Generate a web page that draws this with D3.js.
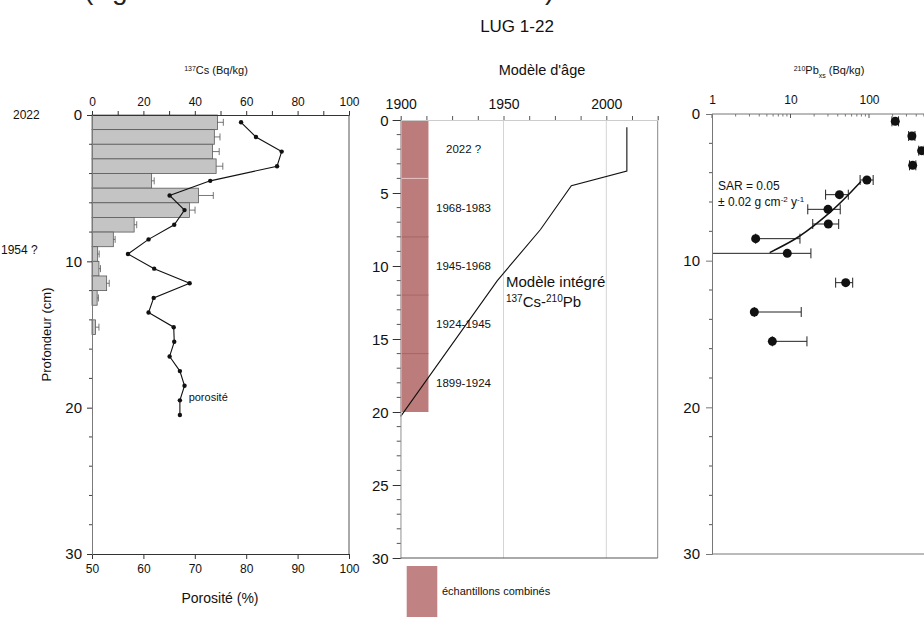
<!DOCTYPE html>
<html><head><meta charset="utf-8">
<script src="https://cdn.jsdelivr.net/npm/d3@7"></script>
<style>body{margin:0;background:#fff}svg{display:block;font-family:"Liberation Sans",Arial,sans-serif}</style>
</head><body><svg id="c" width="924" height="617"></svg>
<script>
// ---------- DATA ----------
// 137Cs activity, 1 cm slices (top depth of slice)
const csDepthTop = [0,1,2,3,4,5,6,7,8,9,10,11,12,13,14];
const csValues   = [48.8,47.6,46.9,48.3,23.2,41.4,37.9,16.4,8.3,2.2,2.7,5.7,2.0,0,1.4];
const csErrors   = [2.3,2.2,2.6,2.6,1.0,5.8,2.2,1.0,0.7,0.6,0.6,1.0,0.5,0,1.3];
// porosity (%)
const porDepth  = [0.5,1.5,2.5,3.5,4.5,5.5,6.5,7.5,8.5,9.5,10.5,11.5,12.5,13.5,14.5,15.5,16.5,17.5,18.5,19.5,20.5];
const porValues = [79.0,81.9,86.9,86.0,73.0,65.1,68.0,66.0,61.0,57.0,62.1,69.0,62.0,61.0,65.9,66.0,65.1,67.1,68.0,67.1,67.1];
const depthMarkers = [{label:"2022", depth:0},{label:"1954 ?", depth:9.2}];
const csTicks = [0,20,40,60,80,100];
const porTicks = [50,60,70,80,90,100];
const depthTicks = [0,10,20,30];
// age model
const ageYears  = [2010,2010,1983,1968,1947,1900];
const ageDepths = [0.5,3.5,4.5,7.5,11,20.3];
const sampleTop = [0,4,8,12,16];
const sampleBottom = [4,8,12,16,20];
const sampleLabels = ["2022 ?","1968-1983","1945-1968","1924-1945","1899-1924"];
const yearTicks = [1900,1950,2000];
const ageDepthTicks = [0,5,10,15,20,25,30];
// 210Pb excess
const pbDepth  = [0.5,1.5,2.5,3.5,4.5,5.5,6.5,7.5,8.5,9.5,11.5,13.5,15.5];
const pbValues = [216,352,468,360,94,42,30,30.3,3.6,9.1,50.5,3.46,5.87];
const pbLow    = [196,320,430,328,77,28,16.6,19.2,3.6,1,37.6,3.46,5.87];
const pbHigh   = [238,385,505,395,113,54.5,43,41.1,13.2,18.2,62,13.7,16.2];
const fitValues = [5.43,10.9,27.5,79];
const fitDepths = [9.45,8.59,7.0,4.6];
const pbTicks = [1,10,100];

// ---------- DRAW ----------
const svg = d3.select("#c");
const FONT = "Liberation Sans, Arial, sans-serif";
const axisGrey = "#7a7a7a";

function styleAxis(g, color, fs){
  g.selectAll("path").attr("stroke", color);
  g.selectAll("line").attr("stroke", color);
  g.selectAll("text").attr("fill","#111").style("font-size", fs+"px").style("font-family",FONT);
}

// caption fragment cut at top & title
svg.append("text").attr("x",84).attr("y",-1).style("font-size","28px").attr("fill","#222").text("(Âge");
svg.append("text").attr("x",545).attr("y",-1).style("font-size","28px").attr("fill","#222").text(")");
svg.append("text").attr("x",517).attr("y",32).attr("text-anchor","middle").style("font-size","17px").attr("fill","#111").text("LUG 1-22");

// ===== Panel 1 =====
const L = {x0:92, x1:349, y0:115, y1:554};
const xCs = d3.scaleLinear().domain([0,100]).range([L.x0,L.x1]);
const xPor = d3.scaleLinear().domain([50,100]).range([L.x0,L.x1]);
const yL = d3.scaleLinear().domain([0,30]).range([L.y0,L.y1]);

const p1 = svg.append("g");
const csRows = csDepthTop.map((d,i)=>({d, v:csValues[i], e:csErrors[i]})).filter(o=>o.v>0);
p1.selectAll("rect.cs").data(csRows)
  .join("rect").attr("x",xCs(0)).attr("y",o=>yL(o.d)).attr("width",o=>xCs(o.v)-xCs(0)).attr("height",o=>yL(o.d+1)-yL(o.d))
  .attr("fill","#c4c4c4").attr("stroke","#5a5a5a").attr("stroke-width",0.8);
const eb = p1.selectAll("g.err").data(csRows).join("g");
eb.append("line").attr("x1",o=>xCs(o.v)).attr("x2",o=>xCs(o.v+o.e)).attr("y1",o=>yL(o.d+0.5)).attr("y2",o=>yL(o.d+0.5)).attr("stroke","#555").attr("stroke-width",0.8);
eb.append("line").attr("x1",o=>xCs(o.v+o.e)).attr("x2",o=>xCs(o.v+o.e)).attr("y1",o=>yL(o.d+0.5)-3.5).attr("y2",o=>yL(o.d+0.5)+3.5).attr("stroke","#555").attr("stroke-width",0.8);

const porPts = porDepth.map((d,i)=>[xPor(porValues[i]), yL(d)]);
p1.append("path").attr("d", d3.line()(porPts)).attr("fill","none").attr("stroke","#111").attr("stroke-width",1.1);
p1.selectAll("circle.por").data(porPts).join("circle").attr("cx",d=>d[0]).attr("cy",d=>d[1]).attr("r",2.2).attr("fill","#111");
p1.append("text").attr("x",xPor(68.8)).attr("y",yL(19.3)+4).style("font-size","11px").attr("fill","#111").text("porosité");

const aTopL = svg.append("g").attr("transform",`translate(0,${L.y0})`)
  .call(d3.axisTop(xCs).tickValues(d3.range(0,101,10)).tickSize(4).tickFormat(v=>csTicks.includes(v)?v:""));
styleAxis(aTopL,"#333",12);
aTopL.selectAll("text").attr("dy","-0.15em");
const aBotL = svg.append("g").attr("transform",`translate(0,${L.y1})`)
  .call(d3.axisBottom(xPor).tickValues(porTicks).tickSize(5).tickPadding(5));
styleAxis(aBotL,"#333",12);
const aLeftL = svg.append("g").attr("transform",`translate(${L.x0},0)`)
  .call(d3.axisLeft(yL).tickValues(depthTicks).tickSize(5).tickPadding(5));
styleAxis(aLeftL,axisGrey,15);
aLeftL.selectAll("line").attr("stroke","#333");
svg.append("g").selectAll("line").data(d3.range(2,30,2).filter(v=>v%10)).join("line")
  .attr("x1",L.x0-3).attr("x2",L.x0).attr("y1",v=>yL(v)).attr("y2",v=>yL(v)).attr("stroke","#444");
svg.append("line").attr("x1",L.x1).attr("x2",L.x1).attr("y1",L.y0).attr("y2",L.y1).attr("stroke","#555");
svg.append("text").attr("x",216).attr("y",74).attr("text-anchor","middle").style("font-size","11px").attr("fill","#111")
  .html('<tspan baseline-shift="super" font-size="7px">137</tspan>Cs (Bq/kg)');
svg.append("text").attr("x",220).attr("y",603).attr("text-anchor","middle").style("font-size","14px").attr("fill","#111").text("Porosité (%)");
svg.append("text").attr("transform",`translate(51,${(L.y0+L.y1)/2}) rotate(-90)`).attr("text-anchor","middle").style("font-size","13px").attr("fill","#111").text("Profondeur (cm)");
svg.append("g").selectAll("text").data(depthMarkers).join("text")
  .attr("x",d=>d.label==="2022"?13:1).attr("y",d=>yL(d.depth)+4).style("font-size","12px").attr("fill","#111").text(d=>d.label);

// ===== Panel 2 =====
const M = {x0:400.7, x1:657.7, y0:120, y1:558};
const xYear = d3.scaleLinear().domain([1900,2025]).range([M.x0,M.x1]);
const yM = d3.scaleLinear().domain([0,30]).range([M.y0,M.y1]);
const p2 = svg.append("g");
p2.selectAll("line.grid").data([1950,2000]).join("line").attr("x1",d=>xYear(d)).attr("x2",d=>xYear(d)).attr("y1",M.y0).attr("y2",M.y1).attr("stroke","#d4d4d4");
p2.append("line").attr("x1",M.x0).attr("x2",M.x0).attr("y1",M.y0).attr("y2",M.y1).attr("stroke","#bbb");
p2.append("line").attr("x1",M.x1).attr("x2",M.x1).attr("y1",M.y0).attr("y2",M.y1).attr("stroke","#888");
const combW = xYear(1913.5)-xYear(1900);
p2.selectAll("rect.s").data(sampleTop).join("rect").attr("x",xYear(1900)).attr("y",d=>yM(d)).attr("width",combW)
  .attr("height",(d,i)=>yM(sampleBottom[i])-yM(d)).attr("fill","#bd7c7c");
p2.selectAll("line.sep").data(sampleTop.slice(1)).join("line").attr("x1",xYear(1900)).attr("x2",xYear(1900)+combW)
  .attr("y1",d=>yM(d)).attr("y2",d=>yM(d)).attr("stroke",(d,i)=>i===0?"#e8cccc":"#9a5656").attr("stroke-width",0.8);
p2.selectAll("text.sl").data(sampleTop).join("text").attr("x",d=>d===0?446:436).attr("y",(d,i)=>yM((d+sampleBottom[i])/2)+4)
  .style("font-size","11.5px").attr("fill","#111").text((d,i)=>sampleLabels[i]);
p2.append("path").attr("d", d3.line()(ageYears.map((y,i)=>[xYear(y), yM(ageDepths[i])]))).attr("fill","none").attr("stroke","#111").attr("stroke-width",1.1);
p2.append("text").attr("x",506).attr("y",287).style("font-size","15px").attr("fill","#111").text("Modèle intégré");
p2.append("text").attr("x",506).attr("y",307).style("font-size","15px").attr("fill","#111")
  .html('<tspan baseline-shift="super" font-size="10px">137</tspan>Cs-<tspan baseline-shift="super" font-size="10px">210</tspan>Pb');
const aTopM = svg.append("g").attr("transform",`translate(0,${M.y0})`)
  .call(d3.axisTop(xYear).tickValues(d3.range(1900,2026,12.5)).tickSize(4).tickFormat(v=>yearTicks.includes(v)?v:""));
styleAxis(aTopM,"#555",14);
aTopM.select("path").attr("stroke","#ccc");
aTopM.selectAll("text").attr("dy","-0.3em");
const aLeftM = svg.append("g").attr("transform",`translate(${M.x0},0)`)
  .call(d3.axisLeft(yM).tickValues(ageDepthTicks).tickSize(8).tickPadding(4));
styleAxis(aLeftM,"#bbb",15);
aLeftM.selectAll("line").attr("stroke","#333");
aLeftM.selectAll("text").attr("dy","0.35em");
svg.append("g").selectAll("line").data(d3.range(1,30).filter(v=>v%5)).join("line")
  .attr("x1",M.x0-4).attr("x2",M.x0).attr("y1",v=>yM(v)).attr("y2",v=>yM(v)).attr("stroke","#555");
svg.append("line").attr("x1",M.x0).attr("x2",M.x1).attr("y1",M.y1).attr("y2",M.y1).attr("stroke","#555");
svg.append("text").attr("x",542).attr("y",75).attr("text-anchor","middle").style("font-size","14.5px").attr("fill","#111").text("Modèle d'âge");
svg.append("rect").attr("x",406.7).attr("y",566).attr("width",30.6).attr("height",60).attr("fill","#c08282");
svg.append("text").attr("x",442).attr("y",595).style("font-size","11px").attr("fill","#111").text("échantillons combinés");

// ===== Panel 3 =====
const R = {x0:712, y0:114, y1:554};
const xPb = d3.scaleLog().domain([1,1000]).range([R.x0, R.x0+3*78.5]);
const yR = d3.scaleLinear().domain([0,30]).range([R.y0,R.y1]);
const p3 = svg.append("g");
const pb = pbDepth.map((d,i)=>({d, v:pbValues[i], lo:pbLow[i], hi:pbHigh[i]}));
const pe = p3.selectAll("g.pe").data(pb).join("g");
pe.append("line").attr("x1",o=>xPb(o.lo)).attr("x2",o=>xPb(o.hi)).attr("y1",o=>yR(o.d)).attr("y2",o=>yR(o.d)).attr("stroke","#222").attr("stroke-width",1);
pe.filter(o=>o.lo>1).append("line").attr("x1",o=>xPb(o.lo)).attr("x2",o=>xPb(o.lo)).attr("y1",o=>yR(o.d)-5).attr("y2",o=>yR(o.d)+5).attr("stroke","#222");
pe.append("line").attr("x1",o=>xPb(o.hi)).attr("x2",o=>xPb(o.hi)).attr("y1",o=>yR(o.d)-5).attr("y2",o=>yR(o.d)+5).attr("stroke","#222");
p3.append("path").attr("d", d3.line().curve(d3.curveMonotoneY)(fitValues.map((v,i)=>[xPb(v), yR(fitDepths[i])])))
  .attr("fill","none").attr("stroke","#111").attr("stroke-width",1.5);
p3.selectAll("circle").data(pb).join("circle").attr("cx",o=>xPb(o.v)).attr("cy",o=>yR(o.d)).attr("r",4.5).attr("fill","#111");
p3.append("text").attr("x",718).attr("y",190).style("font-size","12px").attr("fill","#111").text("SAR = 0.05");
p3.append("text").attr("x",718).attr("y",206).style("font-size","12px").attr("fill","#111")
  .html('± 0.02 g cm<tspan baseline-shift="super" font-size="8px">-2</tspan> y<tspan baseline-shift="super" font-size="8px">-1</tspan>');
const minor = [];
[1,10,100].forEach(b=>{for(let k=2;k<10;k++) minor.push(b*k);});
const aTopR = svg.append("g").attr("transform",`translate(0,${R.y0})`)
  .call(d3.axisTop(xPb).tickValues(pbTicks).tickSize(0).tickPadding(10).tickFormat(d3.format("d")));
styleAxis(aTopR,"#777",12);
aTopR.select("path").attr("d",`M${R.x0},0H924`);
svg.append("g").selectAll("line").data(minor).join("line").attr("x1",v=>xPb(v)).attr("x2",v=>xPb(v)).attr("y1",R.y0).attr("y2",R.y0+2.5).attr("stroke","#777");
svg.append("g").selectAll("line").data(pbTicks).join("line").attr("x1",v=>xPb(v)).attr("x2",v=>xPb(v)).attr("y1",R.y0).attr("y2",R.y0+4).attr("stroke","#555");
const aLeftR = svg.append("g").attr("transform",`translate(${R.x0},0)`)
  .call(d3.axisLeft(yR).tickValues(depthTicks).tickSize(6).tickPadding(6));
styleAxis(aLeftR,"#777",15);
svg.append("g").selectAll("line").data(d3.range(2,30,2).filter(v=>v%10)).join("line")
  .attr("x1",R.x0-3).attr("x2",R.x0).attr("y1",v=>yR(v)).attr("y2",v=>yR(v)).attr("stroke","#555");
svg.append("line").attr("x1",R.x0).attr("x2",924).attr("y1",R.y1).attr("y2",R.y1).attr("stroke","#777");
svg.append("text").attr("x",829).attr("y",74).attr("text-anchor","middle").style("font-size","11px").attr("fill","#111")
  .html('<tspan baseline-shift="super" font-size="7px">210</tspan>Pb<tspan baseline-shift="sub" font-size="7px">xs</tspan> (Bq/kg)');
</script></body></html>
